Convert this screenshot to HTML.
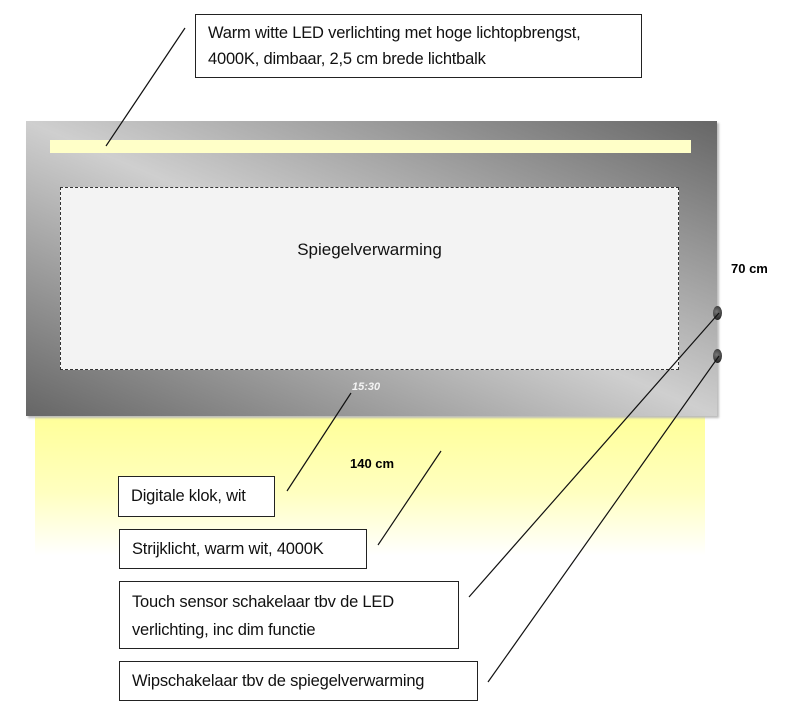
<!DOCTYPE html>
<html><head><meta charset="utf-8"><style>
body{margin:0;width:800px;height:707px;background:#fff;position:relative;overflow:hidden;font-family:"Liberation Sans",sans-serif;}
.a{position:absolute;box-sizing:border-box;}
.box{position:absolute;box-sizing:border-box;border:1.5px solid #222;background:#fff;font-size:16.5px;color:#111;padding-left:12px;line-height:26px;white-space:nowrap;letter-spacing:-0.2px;}
</style></head><body>
<div class="a" style="left:35px;top:416px;width:670px;height:140px;background:linear-gradient(#ffff99,#ffffc0 55%,#fff);"></div>
<div class="a" style="left:26px;top:121px;width:691px;height:295px;background:linear-gradient(to top right,#666 0%,#cfcfcf 50%,#666 100%);box-shadow:2px 2px 2px #bbb;"></div>
<div class="a" style="left:50px;top:140px;width:641px;height:13px;background:#ffffc8;"></div>
<div class="a" style="left:60px;top:187px;width:619px;height:183px;background:#f3f3f3;border:1.5px dashed #333;"></div>
<div class="a" style="left:60px;top:240px;width:619px;text-align:center;font-size:17px;color:#111;">Spiegelverwarming</div>
<div class="a" style="left:352px;top:381px;font-size:11px;font-style:italic;font-weight:bold;color:#f4f4f4;">15:30</div>
<div class="a" style="left:731px;top:261px;font-size:13px;font-weight:bold;">70 cm</div>
<div class="a" style="left:350px;top:456px;font-size:13px;font-weight:bold;">140 cm</div>
<div class="a" style="left:713px;top:306px;width:9px;height:14px;border-radius:50%;background:radial-gradient(circle at 40% 40%,#777,#111);"></div>
<div class="a" style="left:713px;top:349px;width:9px;height:14px;border-radius:50%;background:radial-gradient(circle at 40% 40%,#777,#111);"></div>
<div class="box" style="left:195px;top:14px;width:447px;height:64px;padding-top:5px;">Warm witte LED verlichting met hoge lichtopbrengst,<br>4000K, dimbaar, 2,5 cm brede lichtbalk</div>
<div class="box" style="left:118px;top:476px;width:157px;height:41px;padding-top:6px;">Digitale klok, wit</div>
<div class="box" style="left:119px;top:529px;width:248px;height:40px;padding-top:6px;">Strijklicht, warm wit, 4000K</div>
<div class="box" style="left:119px;top:581px;width:340px;height:68px;padding-top:6px;line-height:28px;">Touch sensor schakelaar tbv de LED<br>verlichting, inc dim functie</div>
<div class="box" style="left:119px;top:661px;width:359px;height:40px;padding-top:6px;">Wipschakelaar tbv de spiegelverwarming</div>
<svg class="a" style="left:0;top:0" width="800" height="707">
<g stroke="#111" stroke-width="1.2">
<line x1="185" y1="28" x2="106" y2="146"/>
<line x1="351" y1="393" x2="287" y2="491"/>
<line x1="441" y1="451" x2="378" y2="545"/>
<line x1="719" y1="313" x2="469" y2="597"/>
<line x1="719" y1="356" x2="488" y2="682"/>
</g></svg>
</body></html>
